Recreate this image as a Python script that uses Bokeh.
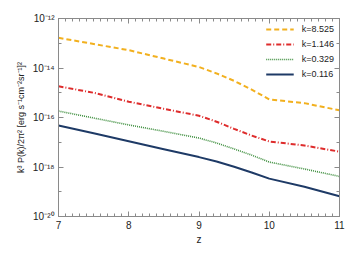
from bokeh.plotting import figure
from bokeh.models import (Range1d, FixedTicker, LinearAxis, LogAxis, Legend, LegendItem)
from bokeh.embed import file_html
from bokeh.resources import INLINE

# ---- data (log10 of k^3 P(k)/2pi^2) ----
z = [7.0, 7.5, 8.0, 8.5, 9.0, 9.25, 9.5, 9.75, 10.0, 10.5, 11.0]
log_k8525 = [-12.78, -13.03, -13.28, -13.62, -13.96, -14.22, -14.52, -14.87, -15.27, -15.42, -15.71]
log_k1146 = [-14.74, -15.00, -15.36, -15.65, -15.93, -16.17, -16.46, -16.73, -16.97, -17.13, -17.38]
log_k0329 = [-15.74, -16.02, -16.30, -16.56, -16.83, -17.03, -17.27, -17.52, -17.80, -18.08, -18.38]
log_k0116 = [-16.32, -16.64, -16.96, -17.28, -17.60, -17.78, -17.99, -18.22, -18.47, -18.80, -19.18]
series_labels = ["k=8.525", "k=1.146", "k=0.329", "k=0.116"]

x_ticks = [7, 8, 9, 10, 11]
x_tick_labels = ["7", "8", "9", "10", "11"]
y_ticks = [1e-20, 1e-18, 1e-16, 1e-14, 1e-12]
y_tick_labels = ["10⁻²⁰", "10⁻¹⁸", "10⁻¹⁶", "10⁻¹⁴", "10⁻¹²"]
y_minor = [10.0 ** e for e in range(-20, -11)]
x_minor = [7 + i / 10 for i in range(41)]

FONT = "Liberation Sans"
AX = "#8a8a8a"

p = figure(width=349, height=247, output_backend="svg", toolbar_location=None,
           y_axis_type="log", x_range=Range1d(7, 11), y_range=Range1d(1e-20, 1e-12),
           min_border_left=58, min_border_right=10, min_border_top=18, min_border_bottom=29)
p.xgrid.visible = False
p.ygrid.visible = False
p.outline_line_color = AX
p.background_fill_color = "white"
p.border_fill_color = "white"

def style(ax):
    ax.axis_line_color = AX
    ax.major_tick_line_color = AX
    ax.minor_tick_line_color = AX
    ax.major_tick_in = 5
    ax.major_tick_out = 0
    ax.minor_tick_in = 3
    ax.minor_tick_out = 0
    ax.major_label_text_font = FONT
    ax.major_label_text_font_size = "10px"
    ax.major_label_text_color = "#222222"
    ax.axis_label_text_font = FONT
    ax.axis_label_text_font_style = "normal"
    ax.axis_label_text_font_size = "10px"
    ax.axis_label_text_color = "#222222"

xt = FixedTicker(ticks=x_ticks, minor_ticks=x_minor)
yt = FixedTicker(ticks=y_ticks, minor_ticks=y_minor)

xa = p.xaxis[0]
xa.ticker = xt
xa.major_label_overrides = {t: l for t, l in zip(x_ticks, x_tick_labels)}
xa.axis_label = "z"
style(xa)
xa.major_label_standoff = 4
xa.axis_label_standoff = 2

ya = p.yaxis[0]
ya.ticker = yt
ya.major_label_overrides = {t: l for t, l in zip(y_ticks, y_tick_labels)}
ya.axis_label = "k³ P(k)/2π² [erg s⁻¹cm⁻²sr⁻¹]²"
style(ya)
ya.axis_label_text_font_size = "9px"
ya.major_label_standoff = 4
ya.axis_label_standoff = 4

top = LinearAxis(ticker=xt)
style(top)
top.major_label_overrides = {t: "" for t in x_ticks}
top.major_label_standoff = 0
p.add_layout(top, "above")
right = LogAxis(ticker=yt)
style(right)
right.major_label_overrides = {t: "" for t in y_ticks}
right.major_label_standoff = 0
p.add_layout(right, "right")

def pw(vals):
    return [10.0 ** v for v in vals]

r1 = p.line(z, pw(log_k8525), line_color="#f2b01e", line_width=2, line_dash="5 3")
r2 = p.line(z, pw(log_k1146), line_color="#de2c2c", line_width=2, line_dash="5 2 1 2")
r3 = p.line(z, pw(log_k0329), line_color="#3f8f3f", line_width=1.6, line_dash="1 1")
r4 = p.line(z, pw(log_k0116), line_color="#1e3a66", line_width=2)

legend = Legend(items=[LegendItem(label=l, renderers=[r]) for l, r in
                       zip(series_labels, [r1, r2, r3, r4])],
                location="top_right")
legend.border_line_color = None
legend.background_fill_alpha = 0
legend.label_text_font = FONT
legend.label_text_font_size = "9px"
legend.label_text_color = "#222222"
legend.glyph_width = 28
legend.glyph_height = 12
legend.label_height = 12
legend.spacing = 3
legend.label_standoff = 8
legend.margin = 5
legend.padding = 5
p.add_layout(legend, "center")

open("out.html", "w").write(file_html(p, INLINE))
